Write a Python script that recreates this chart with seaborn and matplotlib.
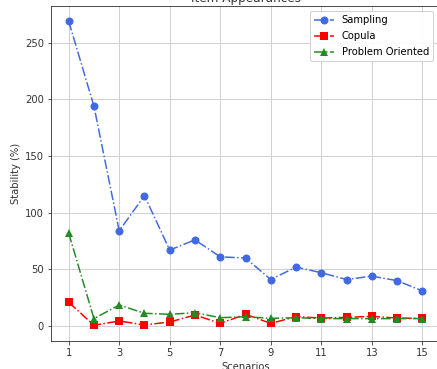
import matplotlib
matplotlib.use("Agg")
import matplotlib.pyplot as plt
import seaborn as sns
import pandas as pd

scenarios = list(range(1, 16))
sampling = [269, 194, 84, 115, 67, 76, 61, 60, 41, 52, 47, 41, 44, 40, 31]
copula = [21, 0.6, 4.4, 0.9, 3.5, 9.7, 2.3, 10.3, 2.3, 8.2, 7.0, 7.6, 8.5, 7.0, 6.7]
problem_oriented = [82, 6.5, 18.5, 11.2, 10.3, 11.7, 7.3, 8.2, 6.7, 7.3, 6.5, 6.5, 6.5, 6.5, 6.5]
series_names = ["Sampling", "Copula", "Problem Oriented"]
xticks = [1, 3, 5, 7, 9, 11, 13, 15]
yticks = [0, 50, 100, 150, 200, 250]

df = pd.DataFrame({
    "Scenarios": scenarios * 3,
    "Stability": sampling + copula + problem_oriented,
    "Method": [series_names[0]] * 15 + [series_names[1]] * 15 + [series_names[2]] * 15,
})

plt.rcParams["font.family"] = ["DejaVu Sans"]
fig = plt.figure(figsize=(437 / 72, 369 / 72), dpi=72)
ax = fig.add_axes([51 / 437, (369 - 340.5) / 369, 389 / 437, 334.5 / 369])

colors = ["royalblue", "red", "forestgreen"]
markers = ["o", "s", "^"]
for name, c, m in zip(series_names, colors, markers):
    sub = df[df["Method"] == name]
    sns.lineplot(data=sub, x="Scenarios", y="Stability", ax=ax, color=c,
                 marker=m, markersize=8, markeredgewidth=0, linestyle="-.",
                 linewidth=1.5, label=name)

ax.set_xticks(xticks)
ax.set_yticks(yticks)
ax.grid(True, color="#d0d0d0", linewidth=1)
ax.set_axisbelow(True)
for s in ["left", "bottom", "top"]:
    ax.spines[s].set_color("#222222")
ax.spines["right"].set_visible(False)
ax.tick_params(labelsize=10, colors="#333333")
ax.set_xlabel("Scenarios", fontsize=10, color="#333333")
ax.set_ylabel("Stability (%)", fontsize=10, color="#333333")
ax.set_title("Item Appearances", fontsize=12, color="#333333", pad=4)
ax.legend(loc="upper right", bbox_to_anchor=(0.995, 1.0), fontsize=10,
          framealpha=0.9, labelspacing=0.6)

fig.savefig("out.png", dpi=72)
